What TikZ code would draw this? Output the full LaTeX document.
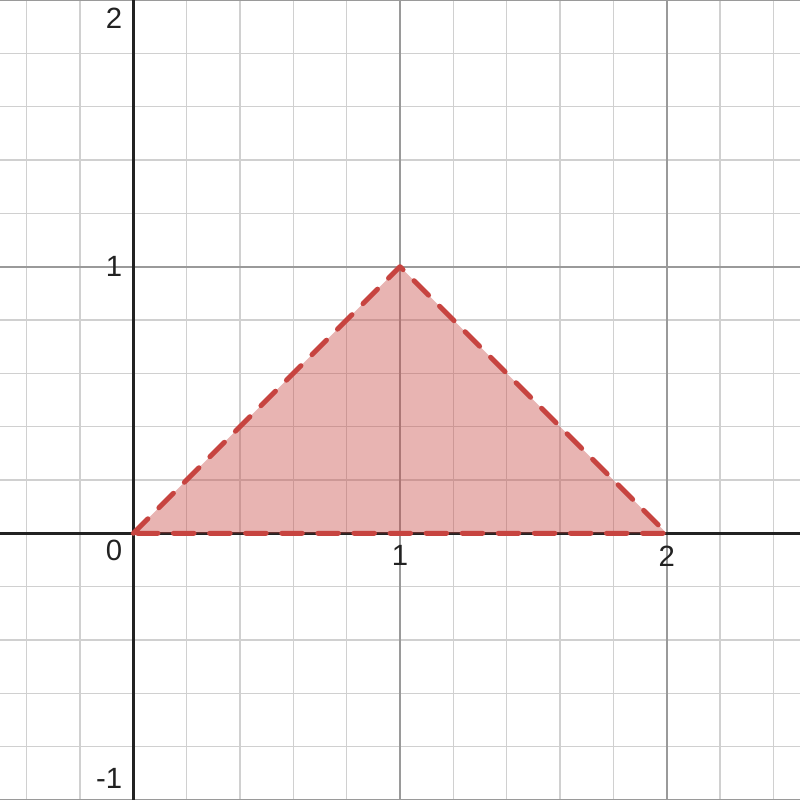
\documentclass[tikz,border=0pt]{standalone}
\usepackage{fontspec}
\setmainfont{Liberation Sans}
\usetikzlibrary{positioning}
\definecolor{ink}     {HTML}{222222}
\definecolor{minorln} {HTML}{D0D0D0}
\definecolor{majorln} {HTML}{9A9A9A}
\definecolor{desred}  {HTML}{C74440}
\tikzset{
  every node/.style={font=\fontsize{12.5}{14}\selectfont, text=ink},
  % --- grid
  minorgrid/.style = {draw=minorln, line width=0.65pt},
  majorgrid/.style = {draw=majorln, line width=0.8pt},
  axis/.style      = {draw=ink, line width=1.1pt},
  % --- region
  region/.style    = {fill=desred, fill opacity=0.4},
  edge/.style      = {draw=desred, line width=2.1pt, dash pattern=on 8.8pt off 6.6pt,
                      line cap=round, line join=round},
  ylbl/.style      = {anchor=east, inner sep=0pt},
  xlbl/.style      = {anchor=north, inner sep=0pt},
}
\begin{document}
\begin{tikzpicture}[x=4cm,y=4cm]
  \useasboundingbox (-0.5,-1) rectangle (2.5,2);
  \fill[white] (-0.5,-1) rectangle (2.5,2);

  % grid
  \foreach \k in {-2,...,12} {
    \draw[minorgrid] (\k/5,-1) -- (\k/5,2);
  }
  \foreach \k in {-5,...,10} {
    \draw[minorgrid] (-0.5,\k/5) -- (2.5,\k/5);
  }
  \foreach \k in {1,2} \draw[majorgrid] (\k,-1) -- (\k,2);
  \foreach \k in {-1,1,2} \draw[majorgrid] (-0.5,\k) -- (2.5,\k);

  % axes
  \draw[axis] (-0.5,0) -- (2.5,0);
  \draw[axis] (0,-1) -- (0,2);

  % triangle
  \coordinate (A) at (0,0);
  \coordinate (B) at (1,1);
  \coordinate (C) at (2,0);
  \fill[region] (A) -- (B) -- (C) -- cycle;
  \draw[edge] (A) -- (B) -- (C) -- cycle;

  % labels
  \node[ylbl] (y0)  at (-0.04,-0.065) {0};
  \node[ylbl] (y1)  at (-0.04,1)      {1};
  \node[ylbl] (y2)  at (-0.04,1.93)   {2};
  \node[ylbl] (ym1) at (-0.04,-0.92)  {-1};
  \node[xlbl] (x1)  at (1,-0.045)     {1};
  \node[xlbl] (x2)  at (2,-0.045)     {2};
\end{tikzpicture}
\end{document}
